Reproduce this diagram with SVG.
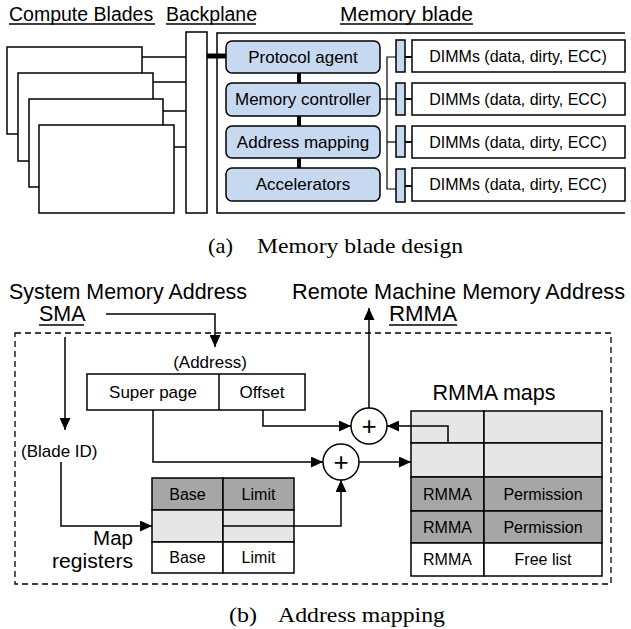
<svg xmlns="http://www.w3.org/2000/svg" width="631" height="629" viewBox="0 0 631 629">
<style>
text{font-family:"Liberation Sans",Arial,sans-serif;fill:#000}
.serif{font-family:"Liberation Serif","Times New Roman",serif}
.box{fill:#fff;stroke:#000;stroke-width:1.5}
.blue{fill:#c6d9f0;stroke:#000;stroke-width:1.5}
.ln{fill:none;stroke:#000;stroke-width:1.5}
.thin{fill:none;stroke:#000;stroke-width:1.2}
.thick{fill:none;stroke:#000;stroke-width:5}
.dark{fill:#a6a6a6;stroke:#000;stroke-width:1.5}
.light{fill:#e6e6e6;stroke:#000;stroke-width:1.5}
.c{text-anchor:middle}
.h{font-size:19.5px}
.big{font-size:21.5px}
.m{font-size:17px}
.s{font-size:16px}
.plus{font-size:26px}
</style>
<defs>
<marker id="arr" markerUnits="userSpaceOnUse" markerWidth="12" markerHeight="11" refX="12" refY="5.5" orient="auto" viewBox="0 0 12 11">
<path d="M0,0 L12,5.5 L0,11 z" fill="#000"/>
</marker>
</defs>

<!-- Part (a) headers -->
<g id="headers-a">
<text class="h" x="9" y="21">Compute Blades</text>
<line class="ln" x1="9" y1="24" x2="155" y2="24"/>
<text class="h" x="166" y="21">Backplane</text>
<line class="ln" x1="166" y1="24" x2="256" y2="24"/>
<text class="h" x="340" y="21" textLength="133" lengthAdjust="spacingAndGlyphs">Memory blade</text>
<line class="ln" x1="340" y1="24" x2="473" y2="24"/>
</g>

<g id="compute-blades">
<rect class="box" x="7" y="47" width="135" height="87"/>
<rect class="box" x="18" y="73" width="135" height="88"/>
<rect class="box" x="29" y="99" width="134" height="88"/>
<rect class="box" x="39" y="125" width="135" height="88"/>
</g>

<g id="backplane">
<rect class="box" x="186" y="32" width="21" height="181"/>
</g>

<g id="memory-blade">
<path class="ln" d="M625,33 H217 V213 H625"/>
</g>

<g id="protocol-agent">
<rect class="blue" x="226" y="41" width="154" height="32" rx="6"/>
<text class="m c" x="303" y="63">Protocol agent</text>
</g>
<g id="memory-controller">
<rect class="blue" x="226" y="83" width="154" height="33" rx="6"/>
<text class="m c" x="303" y="105">Memory controller</text>
</g>
<g id="address-mapping">
<rect class="blue" x="226" y="126" width="154" height="32" rx="6"/>
<text class="m c" x="303" y="148">Address mapping</text>
</g>
<g id="accelerators">
<rect class="blue" x="226" y="168" width="154" height="33" rx="6"/>
<text class="m c" x="303" y="190">Accelerators</text>
</g>

<g id="dimm-bars">
<rect class="blue" x="396" y="40" width="9" height="32"/>
<rect class="blue" x="396" y="83" width="9" height="32"/>
<rect class="blue" x="396" y="126" width="9" height="31"/>
<rect class="blue" x="396" y="169" width="9" height="33"/>
</g>

<g id="dimm1">
<rect class="box" x="412" y="40" width="213" height="32"/>
<text class="s c" x="518" y="62">DIMMs (data, dirty, ECC)</text>
</g>
<g id="dimm2">
<rect class="box" x="412" y="83" width="213" height="32"/>
<text class="s c" x="518" y="105">DIMMs (data, dirty, ECC)</text>
</g>
<g id="dimm3">
<rect class="box" x="412" y="126" width="213" height="32"/>
<text class="s c" x="518" y="148">DIMMs (data, dirty, ECC)</text>
</g>
<g id="dimm4">
<rect class="box" x="412" y="168" width="213" height="33"/>
<text class="s c" x="518" y="190">DIMMs (data, dirty, ECC)</text>
</g>

<g id="connectors-a">
<line class="ln" x1="142" y1="57" x2="186" y2="57"/>
<line class="ln" x1="153" y1="82" x2="186" y2="82"/>
<line class="ln" x1="163" y1="111" x2="186" y2="111"/>
<line class="ln" x1="174" y1="147" x2="186" y2="147"/>
<line class="thick" x1="207" y1="56" x2="226" y2="56"/>
<line style="stroke:#000;stroke-width:4" x1="299" y1="73" x2="299" y2="83"/>
<line style="stroke:#000;stroke-width:4" x1="299" y1="116" x2="299" y2="126"/>
<line style="stroke:#000;stroke-width:4" x1="299" y1="158" x2="299" y2="168"/>
<path class="thin" d="M396,57 H387 V189 H396"/>
<line class="thin" x1="380" y1="99" x2="396" y2="99"/>
<line class="thin" x1="387" y1="142" x2="396" y2="142"/>
<line style="stroke:#000;stroke-width:2" x1="405" y1="57" x2="412" y2="57"/>
<line style="stroke:#000;stroke-width:2" x1="405" y1="99" x2="412" y2="99"/>
<line style="stroke:#000;stroke-width:2" x1="405" y1="142" x2="412" y2="142"/>
<line style="stroke:#000;stroke-width:2" x1="405" y1="186" x2="412" y2="186"/>
</g>

<g id="caption-a">
<text class="serif" x="208" y="253" style="font-size:21px" textLength="25" lengthAdjust="spacingAndGlyphs">(a)</text>
<text class="serif" x="257" y="253" style="font-size:21px" textLength="206" lengthAdjust="spacingAndGlyphs">Memory blade design</text>
</g>

<!-- Part (b) -->
<g id="labels-b">
<text class="big" x="9" y="299" textLength="238" lengthAdjust="spacingAndGlyphs">System Memory Address</text>
<text class="big" x="39" y="321">SMA</text>
<line class="ln" x1="39" y1="325" x2="84" y2="325"/>
<text class="big" x="292" y="299" textLength="333" lengthAdjust="spacingAndGlyphs">Remote Machine Memory Address</text>
<text class="big" x="389" y="321" textLength="68" lengthAdjust="spacingAndGlyphs">RMMA</text>
<line class="ln" x1="389" y1="325" x2="457" y2="325"/>
</g>

<g id="boundary">
<rect x="15" y="333" width="596" height="251" fill="none" stroke="#000" stroke-width="1.3" stroke-dasharray="6,4"/>
</g>

<g id="address">
<text class="m c" x="210" y="368">(Address)</text>
<rect class="box" x="87" y="374" width="218" height="36"/>
<line class="ln" x1="219" y1="374" x2="219" y2="410"/>
<text class="m c" x="153" y="398">Super page</text>
<text class="m c" x="262" y="398">Offset</text>
</g>

<g id="blade-id">
<text class="m" x="21" y="457">(Blade ID)</text>
</g>

<g id="map-registers">
<rect class="dark" x="152" y="478" width="71" height="32"/>
<rect class="dark" x="223" y="478" width="71" height="32"/>
<rect class="light" x="152" y="510" width="71" height="32"/>
<rect class="light" x="223" y="510" width="71" height="32"/>
<rect class="box" x="152" y="542" width="71" height="31"/>
<rect class="box" x="223" y="542" width="71" height="31"/>
<text class="s c" x="187.5" y="500">Base</text>
<text class="s c" x="258.5" y="500">Limit</text>
<text class="s c" x="187.5" y="563">Base</text>
<text class="s c" x="258.5" y="563">Limit</text>
<text x="133" y="545" text-anchor="end" style="font-size:20.5px">Map</text>
<text x="133" y="568" text-anchor="end" style="font-size:20.5px" textLength="81" lengthAdjust="spacingAndGlyphs">registers</text>
</g>

<g id="adder1">
<circle cx="369" cy="426" r="18" fill="#fff" stroke="#000" stroke-width="1.5"/>
<text class="c plus" x="369" y="435">+</text>
</g>
<g id="adder2">
<circle cx="341" cy="462" r="18" fill="#fff" stroke="#000" stroke-width="1.5"/>
<text class="c plus" x="341" y="471">+</text>
</g>

<g id="rmma-maps">
<text class="big c" x="494" y="400">RMMA maps</text>
<rect class="light" x="411" y="411" width="73" height="32"/>
<rect class="light" x="484" y="411" width="118" height="32"/>
<rect class="light" x="411" y="443" width="73" height="34"/>
<rect class="light" x="484" y="443" width="118" height="34"/>
<rect class="dark" x="411" y="477" width="73" height="34"/>
<rect class="dark" x="484" y="477" width="118" height="34"/>
<rect class="dark" x="411" y="511" width="73" height="32"/>
<rect class="dark" x="484" y="511" width="118" height="32"/>
<rect class="box" x="411" y="543" width="73" height="33"/>
<rect class="box" x="484" y="543" width="118" height="33"/>
<text class="s c" x="447.5" y="500">RMMA</text>
<text class="s c" x="543" y="500">Permission</text>
<text class="s c" x="447.5" y="533">RMMA</text>
<text class="s c" x="543" y="533">Permission</text>
<text class="s c" x="447.5" y="565">RMMA</text>
<text class="s c" x="543" y="565">Free list</text>
</g>

<g id="connectors-b">
<path class="ln" d="M106,314 H215 V347" marker-end="url(#arr)"/>
<path class="ln" d="M65,337 V430" marker-end="url(#arr)"/>
<path class="ln" d="M61,462 V526 H152" marker-end="url(#arr)"/>
<path class="ln" d="M153,410 V462 H323" marker-end="url(#arr)"/>
<path class="ln" d="M263,410 V426 H351" marker-end="url(#arr)"/>
<path class="ln" d="M359,462 H411" marker-end="url(#arr)"/>
<path class="ln" d="M369,408 V308" marker-end="url(#arr)"/>
<path class="ln" d="M448,443 V426 H387" marker-end="url(#arr)"/>
<path class="ln" d="M223,526 H341 V480" marker-end="url(#arr)"/>
</g>

<g id="caption-b">
<text class="serif" x="229" y="622" style="font-size:21px" textLength="28" lengthAdjust="spacingAndGlyphs">(b)</text>
<text class="serif" x="278" y="622" style="font-size:21px" textLength="167" lengthAdjust="spacingAndGlyphs">Address mapping</text>
</g>
</svg>
